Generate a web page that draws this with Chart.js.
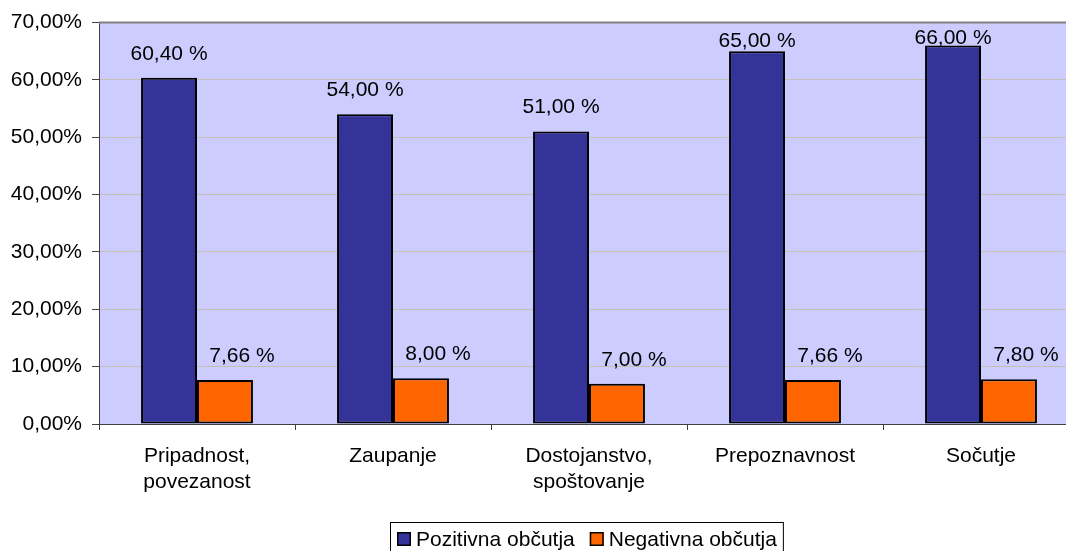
<!DOCTYPE html>
<html>
<head>
<meta charset="utf-8">
<script src="https://cdn.jsdelivr.net/npm/chart.js@4/dist/chart.umd.min.js"></script>
<style>
html,body{margin:0;padding:0;background:#fff;overflow:hidden;}
#wrap{width:1100px;height:551px;}
</style>
</head>
<body>
<div id="wrap"><canvas id="c" width="1100" height="551"></canvas></div>
<script>
const categories = [['Pripadnost,', 'povezanost'], 'Zaupanje', ['Dostojanstvo,', 'spoštovanje'], 'Prepoznavnost', 'Sočutje'];
const seriesNames = ['Pozitivna občutja', 'Negativna občutja'];
const positive = [60.40, 54.00, 51.00, 65.00, 66.00];
const negative = [7.66, 8.00, 7.00, 7.66, 7.80];
const yMin = 0, yMax = 70, yStep = 10;

const FONT = "'Liberation Sans', Arial, sans-serif";
const fmtTick = v => v.toFixed(2).replace('.', ',') + '%';
const fmtLabel = v => v.toFixed(2).replace('.', ',') + ' %';

const bgPlugin = {
  id: 'bgPlugin',
  beforeDraw(chart) {
    const {ctx, chartArea: a} = chart;
    ctx.save();
    ctx.fillStyle = '#ccccff';
    ctx.fillRect(a.left, a.top, a.right - a.left, a.bottom - a.top);
    ctx.restore();
  },
  afterDraw(chart) {
    const {ctx, chartArea: a} = chart;
    ctx.save();
    // top border of plot area
    ctx.strokeStyle = '#808080';
    ctx.lineWidth = 2;
    ctx.beginPath();
    ctx.moveTo(a.left, a.top);
    ctx.lineTo(a.right, a.top);
    ctx.stroke();
    // data labels
    ctx.fillStyle = '#000';
    ctx.font = '21px ' + FONT;
    ctx.textAlign = 'center';
    ctx.textBaseline = 'middle';
    chart.data.datasets.forEach((ds, i) => {
      const meta = chart.getDatasetMeta(i);
      const dx = i === 1 ? 17 : 0;
      meta.data.forEach((bar, j) => {
        const top = bar.y;
        const y = Math.max(top - 24, (top + a.top) / 2 + 4);
        ctx.fillText(fmtLabel(ds.data[j]), bar.x + dx, y);
      });
    });
    // legend
    const cx = (a.left + a.right) / 2 - 3;
    ctx.font = '21px ' + FONT;
    ctx.textAlign = 'left';
    ctx.textBaseline = 'alphabetic';
    const box = 14, gapBoxText = 5, gapItems = 15, padL = 7, padR = 6;
    const widths = seriesNames.map(n => ctx.measureText(n).width);
    const total = padL + widths.reduce((s, w) => s + box + gapBoxText + w, 0) + gapItems * (seriesNames.length - 1) + padR;
    const lx = Math.round(cx - total / 2);
    const ly = 522;
    ctx.strokeStyle = '#000';
    ctx.lineWidth = 1;
    ctx.strokeRect(lx + 0.5, ly + 0.5, total, 50);
    let x = lx + padL;
    seriesNames.forEach((n, i) => {
      ctx.fillStyle = chart.data.datasets[i].backgroundColor;
      ctx.fillRect(x, ly + 10, box, box);
      ctx.strokeStyle = '#000';
      ctx.lineWidth = 1.5;
      ctx.strokeRect(x + 0.75, ly + 10.75, box - 1.5, box - 1.5);
      ctx.fillStyle = '#000';
      ctx.fillText(n, x + box + gapBoxText, ly + 24);
      x += box + gapBoxText + widths[i] + gapItems;
    });
    ctx.restore();
  }
};

new Chart(document.getElementById('c'), {
  type: 'bar',
  data: {
    labels: categories,
    datasets: [
      { label: seriesNames[0], data: positive, backgroundColor: '#333399', borderColor: '#000', borderWidth: 2, borderSkipped: false,
        barPercentage: 1.0, categoryPercentage: 0.571 },
      { label: seriesNames[1], data: negative, backgroundColor: '#ff6600', borderColor: '#000', borderWidth: 2, borderSkipped: false,
        barPercentage: 1.0, categoryPercentage: 0.571 }
    ]
  },
  options: {
    responsive: false,
    animation: false,
    devicePixelRatio: 1,
    layout: { padding: { left: 0, right: 21, top: 12, bottom: 0 } },
    plugins: { legend: { display: false }, tooltip: { enabled: false } },
    scales: {
      x: {
        offset: true,
        grid: { display: true, offset: true, drawOnChartArea: false, drawTicks: true, tickLength: 6, tickColor: '#404040', lineWidth: 1 },
        border: { display: true, color: '#404040', width: 1 },
        ticks: { color: '#000', font: { family: FONT, size: 21 }, maxRotation: 0, minRotation: 0, autoSkip: false, padding: 14 },
        afterFit(scale) { scale.height = 127; }
      },
      y: {
        min: yMin, max: yMax,
        grid: { color: '#c4c0b4', lineWidth: 1, drawTicks: true, tickLength: 7, tickColor: '#404040' },
        border: { display: true, color: '#404040', width: 1 },
        ticks: { stepSize: yStep, color: '#000', font: { family: FONT, size: 21 }, padding: 10, callback: v => fmtTick(v) },
        afterFit(scale) { scale.width = 99; }
      }
    }
  },
  plugins: [bgPlugin]
});
</script>
</body>
</html>
